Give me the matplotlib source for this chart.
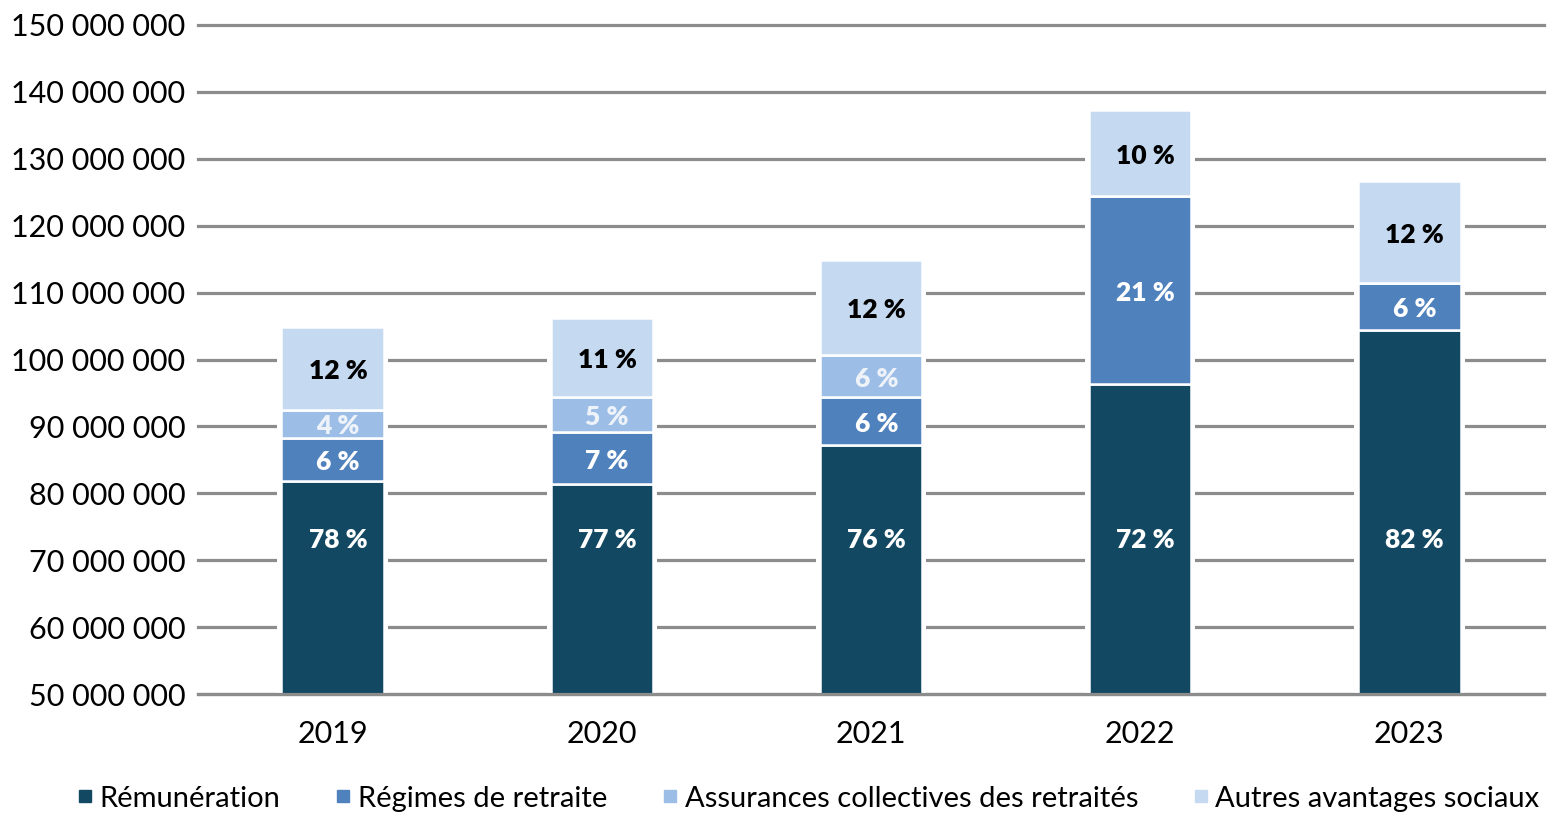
import matplotlib
matplotlib.use('Agg')
import matplotlib.pyplot as plt
from matplotlib.lines import Line2D
import numpy as np

plt.rcParams['font.family'] = ['Lato', 'DejaVu Sans']

# Data
years = ['2019', '2020', '2021', '2022', '2023']
series_names = ['Rémunération', 'Régimes de retraite',
                'Assurances collectives des retraités', 'Autres avantages sociaux']
remuneration = [81.8e6, 81.4e6, 87.2e6, 96.3e6, 104.4e6]
regimes = [6.5e6, 7.8e6, 7.2e6, 28.1e6, 7.0e6]
assurances = [4.2e6, 5.2e6, 6.3e6, 0.0, 0.0]
autres = [12.4e6, 11.8e6, 14.2e6, 12.9e6, 15.3e6]
pct_labels = [
    ['78 %', '77 %', '76 %', '72 %', '82 %'],
    ['6 %', '7 %', '6 %', '21 %', '6 %'],
    ['4 %', '5 %', '6 %', '', ''],
    ['12 %', '11 %', '12 %', '10 %', '12 %'],
]
yticks = np.arange(50e6, 150e6 + 1, 10e6)

colors = ['#134862', '#4f81bd', '#9bbde6', '#c5daf0']
label_colors = ['white', 'white', '#eef3fa', 'black']
y_min = 50e6

fig = plt.figure(figsize=(15.48, 8.14), dpi=100)
ax = fig.add_axes([0.1279, 0.1474, 0.8695, 0.8219])

x = np.arange(len(years))
series = [remuneration, regimes, assurances, autres]
totals = np.sum(series, axis=0)

# gridlines
for t in yticks:
    ax.axhline(t, color='#8c8c8c', lw=2.3, zorder=0, clip_on=False)

# white backing so gridlines stop short of the bars
ax.bar(x, totals - y_min, bottom=y_min, width=0.41, color='white', zorder=1)

bottom = np.full(len(years), y_min)
for i, vals in enumerate(series):
    vals = np.array(vals)
    if i == 0:
        heights = vals - y_min
    else:
        heights = vals
    ax.bar(x, heights, bottom=bottom, width=0.38, color=colors[i],
           edgecolor='white', lw=1.8, zorder=2)
    for j in range(len(years)):
        if not pct_labels[i][j]:
            continue
        if i == 0:
            ly = 73e6
        else:
            ly = bottom[j] + heights[j] / 2 - 0.4e6
        ax.text(x[j] + 0.02, ly, pct_labels[i][j], ha='center', va='center',
                fontsize=19, fontweight='heavy', color=label_colors[i], zorder=3)
    bottom = bottom + heights

# baseline
ax.axhline(y_min, color='#8c8c8c', lw=2.3, zorder=4, clip_on=False)

ax.set_xlim(-0.5, len(years) - 0.5)
ax.set_ylim(y_min, 150e6)
ax.set_xticks(x)
ax.set_xticklabels(years, fontsize=22)
ax.set_yticks(yticks)
ax.set_yticklabels([f'{int(v):,}'.replace(',', ' ') for v in yticks], fontsize=22)
ax.tick_params(length=0, pad=9)
ax.tick_params(axis='x', pad=19)
for s in ax.spines.values():
    s.set_visible(False)

handles = [Line2D([0], [0], marker='s', linestyle='none', markersize=8,
                  markerfacecolor=c, markeredgecolor=c) for c in colors]
fig.legend(handles, series_names, loc='center', bbox_to_anchor=(0.521, 0.019),
           ncol=4, frameon=False, fontsize=21, handletextpad=0.1,
           columnspacing=1.75, handlelength=0.8)

fig.savefig('out.png', dpi=100)
